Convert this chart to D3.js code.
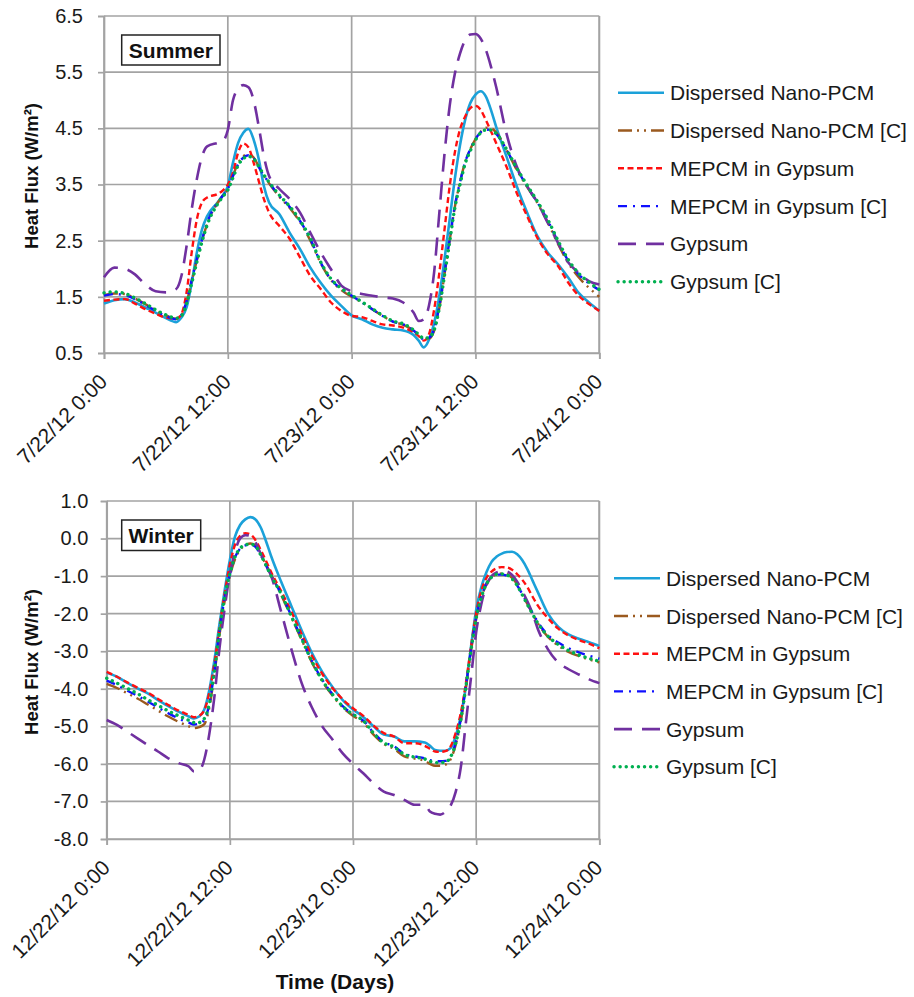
<!DOCTYPE html>
<html><head><meta charset="utf-8">
<script src="https://cdn.jsdelivr.net/npm/d3@7"></script>
<style>body{margin:0;background:#fff}svg{display:block}text{font-family:"Liberation Sans",Arial,sans-serif}</style>
</head><body><svg id="c" width="914" height="997"></svg>
<script>
// ---------------- DATA ----------------
const seriesNames = ["Dispersed Nano-PCM","Dispersed Nano-PCM [C]","MEPCM in Gypsum","MEPCM in Gypsum [C]","Gypsum","Gypsum [C]"];
const summerXLabels = ["7/22/12 0:00","7/22/12 12:00","7/23/12 0:00","7/23/12 12:00","7/24/12 0:00"];
const winterXLabels = ["12/22/12 0:00","12/22/12 12:00","12/23/12 0:00","12/23/12 12:00","12/24/12 0:00"];
const xTickHours = [0,12,24,36,48];
const summerYTicks = [0.5,1.5,2.5,3.5,4.5,5.5,6.5];
const winterYTicks = [-8,-7,-6,-5,-4,-3,-2,-1,0,1];

const summerHours = [0,1,2,3,4,5,6,7,7.5,8,8.5,9,9.5,10,11,11.5,12,12.5,13,13.5,14,14.5,15,15.5,16,17,18,19,20,21,22,23,24,25,26,27,28,29,30,30.5,31,31.5,32,32.5,33,33.5,34,34.5,35,35.5,36,36.5,37,37.5,38,39,40,41,42,43,44,45,46,47,48];
const summerNano = [1.38,1.44,1.46,1.40,1.31,1.22,1.12,1.05, 1.13,1.31,1.75,2.29,2.70,2.94, 3.18,3.30,3.47,3.89,4.24,4.42,4.49,4.30,3.95,3.47, 3.18,2.97,2.64,2.35,2.02,1.75,1.52,1.34,1.17, 1.10,1.01,0.95,0.92,0.90,0.82, 0.72,0.60,0.74,1.04,1.52,2.17,2.88,3.60,4.20,4.65,4.95,5.10,5.16,5.07,4.83,4.53, 4.00,3.47,3.00,2.58,2.29,2.08,1.84,1.57,1.40,1.25];
const summerNanoC = [1.53,1.56,1.55,1.47,1.37,1.26,1.17,1.11, 1.17,1.40,1.78,2.15,2.50,2.80, 3.17,3.30,3.42,3.66,3.88,4.00,4.04,3.98,3.82,3.66, 3.52,3.28,3.08,2.83,2.50,2.10,1.80,1.62,1.50, 1.40,1.28,1.16,1.06,1.00,0.90, 0.82,0.76,0.76,0.90,1.30,1.90,2.50,3.10,3.54,3.90,4.13,4.31,4.44,4.51,4.50,4.43, 4.12,3.76,3.46,3.17,2.83,2.44,2.10,1.85,1.66,1.50];
const summerMepcm = [1.43,1.45,1.46,1.38,1.28,1.20,1.13,1.11, 1.19,1.58,2.29,2.88,3.18,3.27, 3.33,3.39,3.50,3.71,4.07,4.23,4.16,3.89,3.56,3.24, 3.00,2.76,2.53,2.20,1.87,1.64,1.40,1.25,1.16, 1.14,1.07,1.01,0.99,0.95,0.87, 0.80,0.72,0.84,1.28,1.93,2.70,3.47,4.07,4.48,4.71,4.86,4.90,4.83,4.65,4.45,4.24, 3.82,3.35,2.94,2.55,2.26,2.05,1.75,1.52,1.37,1.25];
const summerMepcmC = [1.52,1.55,1.53,1.46,1.36,1.25,1.16,1.10, 1.18,1.42,1.80,2.17,2.52,2.82, 3.18,3.30,3.42,3.65,3.86,3.98,4.02,3.97,3.81,3.66, 3.53,3.30,3.10,2.85,2.53,2.11,1.81,1.64,1.52, 1.40,1.28,1.16,1.06,1.01,0.90, 0.82,0.74,0.77,0.92,1.34,1.93,2.52,3.12,3.54,3.90,4.13,4.31,4.43,4.48,4.46,4.40, 4.12,3.78,3.47,3.18,2.86,2.48,2.14,1.90,1.74,1.62];
const summerGypsum = [1.85,2.02,2.00,1.90,1.72,1.60,1.58,1.64, 1.87,2.40,3.06,3.60,4.00,4.18, 4.24,4.27,4.47,5.00,5.21,5.27,5.23,5.00,4.53,4.00, 3.65,3.42,3.24,3.00,2.64,2.29,1.99,1.70,1.60, 1.55,1.52,1.49,1.47,1.40,1.22, 1.07,1.10,1.35,1.95,3.00,4.05,4.90,5.47,5.83,6.07,6.17,6.18,6.10,5.90,5.60,5.24, 4.41,3.82,3.47,3.18,2.82,2.46,2.11,1.93,1.78,1.72];
const summerGypsumC = [1.57,1.59,1.56,1.48,1.38,1.27,1.18,1.12, 1.16,1.38,1.74,2.12,2.48,2.78, 3.15,3.28,3.40,3.62,3.84,3.96,4.00,3.96,3.82,3.67, 3.54,3.31,3.11,2.86,2.54,2.12,1.82,1.65,1.53, 1.41,1.29,1.17,1.07,1.02,0.91, 0.83,0.76,0.78,0.91,1.30,1.88,2.48,3.08,3.50,3.87,4.10,4.29,4.42,4.47,4.47,4.41, 4.13,3.79,3.49,3.20,2.88,2.50,2.16,1.92,1.76,1.63];

const winterHours = [0,1,2,3,4,5,6,7,8,8.5,9,9.5,10,10.5,11,11.5,12,12.5,13,13.5,14,14.5,15,15.5,16,17,18,19,20,21,22,23,24,25,26,27,28,29,30,31,31.5,32,32.5,33,33.5,34,34.5,35,35.5,36,36.5,37,37.5,38,38.5,39,39.5,40,40.5,41,41.5,42,43,44,45,46,47,48];
const winterNano = [-3.57,-3.68,-3.84,-3.99,-4.12,-4.30,-4.46,-4.61,-4.74, -4.79,-4.74,-4.56,-4.03,-3.23,-2.26,-1.37,-0.57,0.05,0.36,0.51,0.57,0.51,0.30,-0.05, -0.45,-1.15,-1.80,-2.45,-3.05,-3.55,-3.95,-4.30,-4.55,-4.75,-5.00,-5.22,-5.27,-5.40,-5.40,-5.43, -5.52,-5.63,-5.65,-5.65,-5.58,-5.27,-4.74,-3.94,-2.88,-1.90,-1.30,-0.90,-0.62,-0.48,-0.40,-0.36,-0.35,-0.42,-0.58,-0.82,-1.12,-1.42, -2.00,-2.35,-2.55,-2.67,-2.76,-2.86];
const winterNanoC = [-3.87,-3.98,-4.12,-4.26,-4.42,-4.58,-4.74,-4.88,-5.00, -5.05,-5.02,-4.95,-4.50,-3.60,-2.55,-1.66,-1.00,-0.55,-0.30,-0.18,-0.13,-0.18,-0.42,-0.68, -0.95,-1.50,-2.10,-2.70,-3.30,-3.80,-4.18,-4.50,-4.72,-4.90,-5.22,-5.47,-5.60,-5.80,-5.86,-5.92, -6.00,-6.05,-6.05,-6.02,-5.88,-5.50,-4.88,-3.98,-3.00,-2.15,-1.58,-1.22,-1.03,-0.95,-0.93,-0.95,-1.05,-1.22,-1.48,-1.75,-2.00,-2.25, -2.62,-2.85,-3.02,-3.13,-3.22,-3.30];
const winterMepcm = [-3.55,-3.68,-3.83,-3.97,-4.10,-4.27,-4.43,-4.58,-4.70, -4.76,-4.72,-4.58,-4.10,-3.32,-2.35,-1.46,-0.70,-0.17,0.07,0.14,0.11,-0.04,-0.30,-0.58, -0.88,-1.40,-1.95,-2.55,-3.12,-3.60,-3.98,-4.28,-4.52,-4.72,-4.98,-5.18,-5.27,-5.45,-5.45,-5.52, -5.60,-5.67,-5.68,-5.66,-5.54,-5.18,-4.65,-3.85,-2.88,-1.99,-1.40,-1.05,-0.88,-0.79,-0.76,-0.77,-0.83,-0.95,-1.10,-1.30,-1.55,-1.78, -2.12,-2.40,-2.58,-2.70,-2.80,-2.92];
const winterMepcmC = [-3.78,-3.90,-4.05,-4.19,-4.34,-4.50,-4.65,-4.79,-4.90, -4.95,-4.93,-4.83,-4.40,-3.52,-2.46,-1.58,-0.95,-0.50,-0.27,-0.18,-0.16,-0.22,-0.44,-0.70, -0.98,-1.47,-2.06,-2.66,-3.26,-3.76,-4.14,-4.46,-4.68,-4.85,-5.17,-5.42,-5.53,-5.73,-5.80,-5.85, -5.90,-5.93,-5.93,-5.92,-5.80,-5.44,-4.82,-3.93,-2.96,-2.11,-1.55,-1.20,-1.03,-0.96,-0.96,-0.99,-1.08,-1.25,-1.48,-1.74,-1.98,-2.22, -2.57,-2.77,-2.92,-3.03,-3.12,-3.20];
const winterGypsum = [-4.83,-4.96,-5.14,-5.32,-5.50,-5.67,-5.85,-5.98,-6.07, -6.20,-6.18,-5.89,-5.20,-4.20,-2.90,-1.85,-0.95,-0.35,0.00,0.09,0.07,-0.10,-0.40,-0.70, -0.98,-1.95,-2.95,-3.85,-4.50,-5.00,-5.35,-5.72,-6.00,-6.25,-6.52,-6.74,-6.83,-6.96,-7.09,-7.09, -7.27,-7.33,-7.35,-7.28,-7.12,-6.75,-6.10,-4.90,-3.70,-2.50,-1.75,-1.25,-1.00,-0.90,-0.87,-0.88,-0.97,-1.15,-1.40,-1.68,-2.00,-2.40, -2.95,-3.30,-3.48,-3.62,-3.75,-3.85];
const winterGypsumC = [-3.72,-3.85,-3.99,-4.13,-4.29,-4.44,-4.59,-4.72,-4.84, -4.90,-4.90,-4.80,-4.40,-3.52,-2.45,-1.56,-0.94,-0.49,-0.26,-0.17,-0.15,-0.20,-0.43,-0.70, -0.98,-1.47,-2.07,-2.67,-3.27,-3.77,-4.15,-4.47,-4.68,-4.85,-5.18,-5.44,-5.55,-5.75,-5.82,-5.87, -5.93,-5.96,-5.97,-5.95,-5.82,-5.46,-4.84,-3.95,-2.98,-2.13,-1.57,-1.21,-1.03,-0.95,-0.94,-0.97,-1.07,-1.25,-1.50,-1.76,-2.01,-2.25, -2.60,-2.82,-2.98,-3.10,-3.19,-3.27];

// ---------------- STYLE ----------------
const lineStyles = [
  {color:"#1ba1d9", dash:null, width:2.6, cap:"butt"},
  {color:"#9b5a1f", dash:"14,5,2,5,2,5", width:2.4, cap:"butt"},
  {color:"#ff1010", dash:"6,3.5", width:2.4, cap:"butt"},
  {color:"#1010ff", dash:"9,6,2,6", width:2.4, cap:"butt"},
  {color:"#7030a0", dash:"18,10", width:2.6, cap:"butt"},
  {color:"#00b050", dash:"0.1,6", width:3.4, cap:"round"}
];
const gridColor = "#a3a3a3";

const svg = d3.select("#c");

function drawPanel(cfg){
  const g = svg.append("g");
  const x = d3.scaleLinear().domain([0,48]).range([cfg.left, cfg.right]);
  const y = d3.scaleLinear().domain(cfg.yDomain).range([cfg.bottom, cfg.top]);

  // horizontal grid
  g.append("g").selectAll("line").data(cfg.yTicks).join("line")
    .attr("x1", cfg.left).attr("x2", cfg.right)
    .attr("y1", d=>y(d)).attr("y2", d=>y(d))
    .attr("stroke", gridColor).attr("stroke-width", 1.7);
  // vertical grid
  g.append("g").selectAll("line").data(xTickHours).join("line")
    .attr("x1", d=>x(d)).attr("x2", d=>x(d))
    .attr("y1", cfg.top).attr("y2", cfg.bottom)
    .attr("stroke", gridColor).attr("stroke-width", 1.7);

  // y axis
  const ya = g.append("g").attr("transform", `translate(${cfg.left},0)`)
    .call(d3.axisLeft(y).tickValues(cfg.yTicks).tickSize(6).tickPadding(cfg.yPad).tickFormat(d=>d.toFixed(1)));
  ya.select(".domain").attr("stroke", gridColor).attr("stroke-width",1.7);
  ya.selectAll(".tick line").attr("stroke", gridColor).attr("stroke-width",1.7);
  ya.selectAll(".tick text").attr("font-size", 20).attr("fill","#1a1a1a")
    .attr("font-family", '"Liberation Sans",Arial,sans-serif');

  // x axis
  const xa = g.append("g").attr("transform", `translate(0,${cfg.bottom})`)
    .call(d3.axisBottom(x).tickValues(xTickHours).tickSize(6).tickFormat((d,i)=>cfg.xLabels[i]));
  xa.select(".domain").attr("stroke", gridColor).attr("stroke-width",1.7);
  xa.selectAll(".tick line").attr("stroke", gridColor).attr("stroke-width",1.7);
  xa.selectAll(".tick text").attr("font-size", 21).attr("fill","#1a1a1a")
    .attr("font-family", '"Liberation Sans",Arial,sans-serif')
    .attr("text-anchor","end").attr("x",0).attr("y",0).attr("dy",0)
    .attr("transform","translate(4,30) rotate(-45)");

  // right border
  g.append("line").attr("x1",cfg.right).attr("x2",cfg.right).attr("y1",cfg.top).attr("y2",cfg.bottom)
    .attr("stroke",gridColor).attr("stroke-width",1.7);

  // series
  const line = d3.line().x(d=>x(d[0])).y(d=>y(d[1])).curve(d3.curveMonotoneX);
  cfg.series.forEach((vals,i)=>{
    const st = lineStyles[i];
    const pts = cfg.hours.map((h,k)=>[h, vals[k]]);
    g.append("path").datum(pts).attr("d", line)
      .attr("fill","none").attr("stroke", st.color).attr("stroke-width", st.width)
      .attr("stroke-dasharray", st.dash).attr("stroke-linecap", st.cap).attr("stroke-linejoin","round");
  });

  // title box
  g.append("rect").attr("x",cfg.box[0]).attr("y",cfg.box[1]).attr("width",cfg.box[2]).attr("height",cfg.box[3])
    .attr("fill","#fff").attr("stroke","#222").attr("stroke-width",1.5);
  g.append("text").attr("x",cfg.box[0]+cfg.box[2]/2).attr("y",cfg.box[1]+cfg.box[3]/2).attr("dy","0.36em")
    .attr("text-anchor","middle").attr("font-size",21).attr("font-weight","bold").attr("fill","#111").text(cfg.title);

  // y title
  g.append("text").attr("transform",`translate(${cfg.yTitle[0]},${cfg.yTitle[1]}) rotate(-90)`)
    .attr("text-anchor","middle").attr("font-size",18.5).attr("font-weight","bold").attr("fill","#111")
    .text("Heat Flux (W/m²)");

  // legend
  const lg = g.append("g");
  seriesNames.forEach((name,i)=>{
    const st = lineStyles[i];
    const ly = cfg.legend.y + i*cfg.legend.step;
    lg.append("line").attr("x1",cfg.legend.x).attr("x2",cfg.legend.x+46).attr("y1",ly).attr("y2",ly)
      .attr("stroke",st.color).attr("stroke-width",st.width).attr("stroke-dasharray",st.dash).attr("stroke-linecap",st.cap);
    lg.append("text").attr("x",cfg.legend.x+52).attr("y",ly).attr("dy","0.36em")
      .attr("font-size",21).attr("fill","#1a1a1a").text(name);
  });
}

drawPanel({
  left:104, right:599.3, top:16, bottom:353,
  yDomain:[0.5,6.5], yTicks:summerYTicks, yPad:15,
  xLabels:summerXLabels, hours:summerHours,
  series:[summerNano,summerNanoC,summerMepcm,summerMepcmC,summerGypsum,summerGypsumC],
  title:"Summer", box:[121.7,35,98.3,30],
  yTitle:[38,176],
  legend:{x:618, y:92.7, step:37.8}
});
drawPanel({
  left:106.7, right:599.3, top:501, bottom:839,
  yDomain:[-8,1], yTicks:winterYTicks, yPad:12.4,
  xLabels:winterXLabels, hours:winterHours,
  series:[winterNano,winterNanoC,winterMepcm,winterMepcmC,winterGypsum,winterGypsumC],
  title:"Winter", box:[121.7,520,79,30.5],
  yTitle:[38,662],
  legend:{x:614, y:578.3, step:37.7}
});

svg.append("text").attr("x",335).attr("y",989).attr("text-anchor","middle")
  .attr("font-size",21).attr("font-weight","bold").attr("fill","#111").text("Time (Days)");
</script>
</body></html>
